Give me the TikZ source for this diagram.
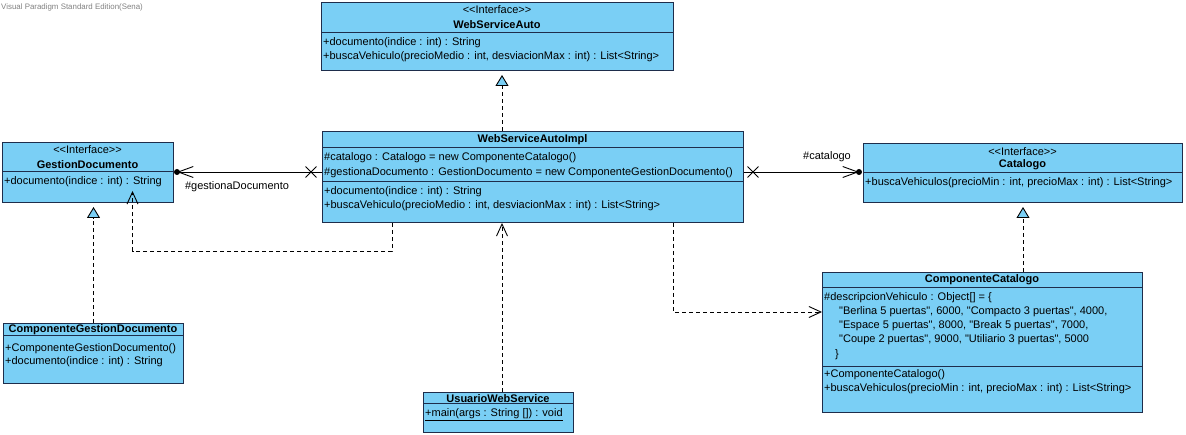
\documentclass[tikz,border=0pt]{standalone}
\usepackage{fontspec}
\newfontfamily\vpfont{Liberation Sans}
\usetikzlibrary{arrows.meta,calc,shapes.misc}
\definecolor{clsfill}{RGB}{122,207,245}
\definecolor{clsline}{RGB}{30,45,75}
\definecolor{wmgray}{RGB}{130,130,130}

\begin{document}
\begin{tikzpicture}[x=1pt,y=-1pt,
  cls/.style={draw=clsline, fill=clsfill, line width=1pt, anchor=north west, inner sep=0pt},
  sep/.style={draw=clsline, line width=1pt},
  txt/.style={anchor=west, inner sep=0pt, font=\vpfont\fontsize{11}{13}\selectfont},
  ctr/.style={anchor=center, inner sep=0pt, font=\vpfont\fontsize{11}{13}\selectfont},
  ttl/.style={anchor=center, inner sep=0pt, font=\vpfont\bfseries\fontsize{11}{13}\selectfont},
  conn/.style={draw=black, line width=0.9pt},
  dep/.style={conn, dash pattern=on 4pt off 3pt, -{Straight Barb[length=12pt,width=11pt]}},
  real/.style={conn, dash pattern=on 4pt off 3pt, -{Triangle[length=11pt,width=13pt,fill=clsfill]}},
  assoc/.style={conn, -{Straight Barb[length=15pt,width=11pt]}},
  navx/.style={draw=black, line width=0.9pt, cross out, minimum size=10pt, inner sep=0pt},
  role/.style={anchor=center, inner sep=0pt, font=\vpfont\fontsize{11}{13}\selectfont}
]
\useasboundingbox[fill=white] (0,0) rectangle (1186,435);

\node[anchor=west, inner sep=0pt, text=wmgray, font=\vpfont\fontsize{7.9}{9}\selectfont] (wm) at (1,7) {Visual Paradigm Standard Edition(Sena)};

% ---------- WebServiceAuto (interface) ----------
\node[cls, minimum width=352pt, minimum height=68pt] (wsa) at (321,2) {};
\draw[sep] (321,33) -- (673,33);
\node[ctr] (wsaS) at (497,10) {<\kern0pt<Interface>\kern0pt>};
\node[ttl] (wsaT) at (497,25) {WebServiceAuto};
\node[txt] (wsaO1) at (323,43) {+documento(indice : int) : String};
\node[txt] (wsaO2) at (323,57) {+buscaVehiculo(precioMedio : int, desviacionMax : int) : List<String>};

% ---------- GestionDocumento (interface) ----------
\node[cls, minimum width=171pt, minimum height=60pt] (gd) at (2,142) {};
\draw[sep] (2,172) -- (173,172);
\node[ctr] (gdS) at (87.5,150) {<\kern0pt<Interface>\kern0pt>};
\node[ttl] (gdT) at (87.5,165) {GestionDocumento};
\node[txt] (gdO1) at (4,182) {+documento(indice : int) : String};

% ---------- WebServiceAutoImpl ----------
\node[cls, minimum width=421pt, minimum height=91pt] (impl) at (322,131) {};
\draw[sep] (322,148) -- (743,148);
\draw[sep] (322,182) -- (743,182);
\node[ttl] (implT) at (532.5,140) {WebServiceAutoImpl};
\node[txt] (implA1) at (324,158) {\#catalogo : Catalogo = new ComponenteCatalogo()};
\node[txt] (implA2) at (324,173) {\#gestionaDocumento : GestionDocumento = new ComponenteGestionDocumento()};
\node[txt] (implO1) at (324,192) {+documento(indice : int) : String};
\node[txt] (implO2) at (324,206) {+buscaVehiculo(precioMedio : int, desviacionMax : int) : List<String>};

% ---------- Catalogo (interface) ----------
\node[cls, minimum width=319pt, minimum height=59pt] (cat) at (863,143) {};
\draw[sep] (863,173) -- (1182,173);
\node[ctr] (catS) at (1022.5,152) {<\kern0pt<Interface>\kern0pt>};
\node[ttl] (catT) at (1022.5,165) {Catalogo};
\node[txt] (catO1) at (865,183) {+buscaVehiculos(precioMin : int, precioMax : int) : List<String>};

% ---------- ComponenteCatalogo ----------
\node[cls, minimum width=320pt, minimum height=140pt] (cc) at (822,272) {};
\draw[sep] (822,288) -- (1142,288);
\draw[sep] (822,367) -- (1142,367);
\node[ttl] (ccT) at (982,280) {ComponenteCatalogo};
\node[txt] (ccA1) at (824,298) {\#descripcionVehiculo : Object[] = \{};
\node[txt] (ccA2) at (839,312) {"Berlina 5 puertas", 6000, "Compacto 3 puertas", 4000,};
\node[txt] (ccA3) at (839,326) {"Espace 5 puertas", 8000, "Break 5 puertas", 7000,};
\node[txt] (ccA4) at (839,340) {"Coupe 2 puertas", 9000, "Utiliario 3 puertas", 5000};
\node[txt] (ccA5) at (835,355) {\}};
\node[txt] (ccO1) at (824,375) {+ComponenteCatalogo()};
\node[txt] (ccO2) at (824,389) {+buscaVehiculos(precioMin : int, precioMax : int) : List<String>};

% ---------- ComponenteGestionDocumento ----------
\node[cls, minimum width=180pt, minimum height=60pt] (cgd) at (3,323) {};
\draw[sep] (3,336) -- (183,336);
\node[ttl] (cgdT) at (93,330) {ComponenteGestionDocumento};
\node[txt] (cgdO1) at (5,349) {+ComponenteGestionDocumento()};
\node[txt] (cgdO2) at (5,362) {+documento(indice : int) : String};

% ---------- UsuarioWebService ----------
\node[cls, minimum width=150pt, minimum height=40pt] (uws) at (423,392) {};
\draw[sep] (423,404) -- (573,404);
\node[ttl] (uwsT) at (498,398.5) {UsuarioWebService};
\node[txt] (uwsO1) at (425,415) {\underline{+main(args : String []) : void}};

% ---------- reference points for the connectors ----------
\coordinate (xmid) at (502,0);
\coordinate (wsaTri) at ($(wsa.south -| xmid)+(0,4)$);
\coordinate (catTri) at ($(cat.south)+(0,4)$);
\coordinate (gdTri) at ($(gd.south -| cgd.north)+(0,4)$);
\coordinate (gdDot) at ($(gd.south east)+(3,-31)$);
\coordinate (catDot) at ($(cat.north west)+(-4,29)$);
\coordinate (gdTip) at ($(gd.south)+(44.5,-12)$);
\coordinate (ccIn) at ($(cc.north west)+(0,40)$);

% realizations
\draw[real] (impl.north -| xmid) -- (wsaTri);
\draw[real] (cc.north -| catTri) -- (catTri);
\draw[real] (cgd.north) -- (gdTri);

% associations with navigability
\draw[assoc] (impl.west |- gdDot) -- (gdDot);
\fill (gdDot) circle[radius=3pt];
\node[navx] (xg) at ($(impl.west |- gdDot)+(-11,0)$) {};
\node[role] (rg) at (237,187) {\#gestionaDocumento};

\draw[assoc] (impl.east |- catDot) -- (catDot);
\fill (catDot) circle[radius=3pt];
\node[navx] (xc) at ($(impl.east |- catDot)+(9,0)$) {};
\node[role] (rc) at (827,157) {\#catalogo};

% dependencies
\draw[dep] ($(impl.south west)+(70,0)$) -- ++(0,28) -| (gdTip);
\draw[dep] ($(impl.south east)+(-71,0)$) |- (ccIn);
\draw[dep] (uws.north -| xmid) -- (impl.south -| xmid);
\end{tikzpicture}
\end{document}
